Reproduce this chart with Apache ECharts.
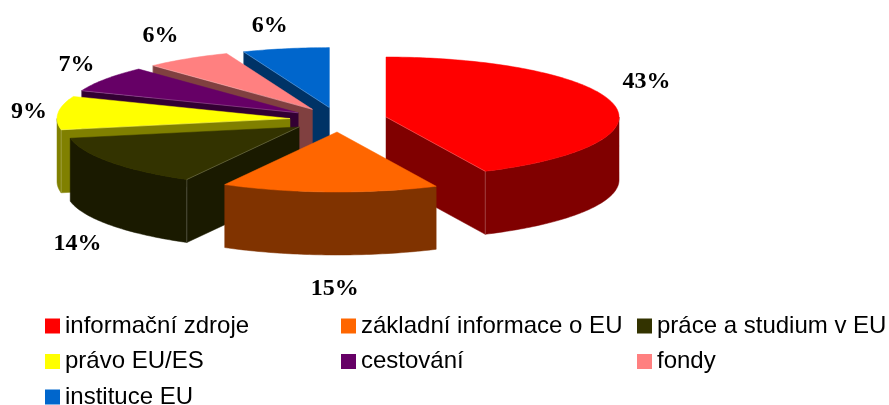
<!DOCTYPE html>
<html>
<head>
<meta charset="utf-8">
<style>
  html, body { margin: 0; padding: 0; background: #fff; }
  #chart { width: 889px; height: 405px; }
</style>
<script src="https://cdn.jsdelivr.net/npm/echarts@6/dist/echarts.min.js"></script>
</head>
<body>
<div id="chart"></div>
<script>
var categories = ['informační zdroje', 'základní informace o EU', 'práce a studium v EU', 'právo EU/ES', 'cestování', 'fondy', 'instituce EU'];
var shares = [43, 15, 14, 9, 7, 6, 6];
var topColors = ['#ff0000', '#ff6600', '#333300', '#ffff00', '#660066', '#ff8080', '#0066cc'];
var sideColors = ['#800000', '#803300', '#1a1a00', '#808000', '#330033', '#804040', '#003366'];

// label offset from the middle of the slice's outer arc
var labelOffsets = [[33, -22], [5, 97], [-33, 82], [-29, -1], [-29, -14], [-27, -23], [-16, -23]];

// legend columns, indexes into categories
var legendColumns = [[0, 3, 6], [1, 4], [2, 5]];
var legendLeft = [45, 341, 637];

// 3d pie shape
var centerX = 338.5, centerY = 119.7;
var radiusX = 233, radiusY = 60, depth = 63;
var explodeX = 48.7, explodeY = 12.3;

var total = shares.reduce(function (a, b) { return a + b; }, 0);
var edgeStyle = { stroke: 'rgba(255,255,255,0.2)', lineWidth: 1, fill: null };

function sliceAngles(i) {
  var before = 0;
  for (var k = 0; k < i; k++) before += shares[k];
  return [before / total * 360, (before + shares[i]) / total * 360];
}

function rad(d) { return d * Math.PI / 180; }

function tipOf(i) {
  var a = sliceAngles(i);
  var mid = rad((a[0] + a[1]) / 2);
  return [centerX + explodeX * Math.sin(mid), centerY - explodeY * Math.cos(mid)];
}

function rimPoint(tip, deg) {
  return [tip[0] + radiusX * Math.sin(rad(deg)), tip[1] - radiusY * Math.cos(rad(deg))];
}

function arcPoints(tip, from, to) {
  var pts = [];
  var n = Math.max(2, Math.ceil(to - from));
  for (var k = 0; k <= n; k++) pts.push(rimPoint(tip, from + (to - from) * k / n));
  return pts;
}

function down(p) { return [p[0], p[1] + depth]; }

function drawSlice(i) {
  var a = sliceAngles(i);
  var tip = tipOf(i);
  var side = { fill: sideColors[i], stroke: sideColors[i], lineWidth: 0.5 };
  var children = [];

  function addWall(deg) {
    var rim = rimPoint(tip, deg);
    children.push({ type: 'polygon', shape: { points: [tip, rim, down(rim), down(tip)] }, style: side });
  }
  function addEdge(deg) {
    var rim = rimPoint(tip, deg);
    children.push({ type: 'polyline', shape: { points: [tip, rim, down(rim)] }, style: edgeStyle });
  }

  // only the walls that face the viewer
  var startVisible = Math.sin(rad(a[0])) < -1e-6;
  var endVisible = Math.sin(rad(a[1])) > 1e-6;
  if (startVisible) addWall(a[0]);
  if (endVisible) addWall(a[1]);

  var from = Math.max(a[0], 90), to = Math.min(a[1], 270);
  if (to > from) {
    var arc = arcPoints(tip, from, to);
    var lower = arc.map(down).reverse();
    children.push({ type: 'polygon', shape: { points: arc.concat(lower) }, style: side });
  }

  children.push({
    type: 'polygon',
    shape: { points: [tip].concat(arcPoints(tip, a[0], a[1])) },
    style: { fill: topColors[i], stroke: topColors[i], lineWidth: 0.5 }
  });

  if (startVisible) addEdge(a[0]);
  if (endVisible) addEdge(a[1]);

  var rimMid = rimPoint(tip, (a[0] + a[1]) / 2);
  children.push({
    type: 'text',
    style: {
      x: rimMid[0] + labelOffsets[i][0],
      y: rimMid[1] + labelOffsets[i][1],
      text: shares[i] + '%',
      fill: '#000',
      font: 'bold 24px "Liberation Serif"',
      textAlign: 'center',
      textVerticalAlign: 'middle'
    }
  });
  return { type: 'group', children: children };
}

var series = categories.map(function (name, i) {
  var a = sliceAngles(i);
  var mid = rad((a[0] + a[1]) / 2);
  return {
    type: 'custom',
    name: name,
    coordinateSystem: 'none',
    // back slices first, front slices on top
    z: 50 - 40 * Math.cos(mid),
    silent: true,
    animation: false,
    itemStyle: { color: topColors[i] },
    data: [shares[i]],
    renderItem: function () { return drawSlice(i); }
  };
});

var legends = legendColumns.map(function (col, c) {
  return {
    orient: 'vertical',
    left: legendLeft[c],
    top: 314,
    height: 120,
    padding: 0,
    itemWidth: 15,
    itemHeight: 15,
    itemGap: 11.5,
    icon: 'rect',
    selectedMode: false,
    data: col.map(function (i) { return categories[i]; }),
    textStyle: { fontFamily: 'Liberation Sans', fontSize: 24, color: '#000', lineHeight: 24 }
  };
});

var myChart = echarts.init(document.getElementById('chart'));
myChart.setOption({
  animation: false,
  backgroundColor: '#fff',
  legend: legends,
  series: series
});
</script>
</body>
</html>
